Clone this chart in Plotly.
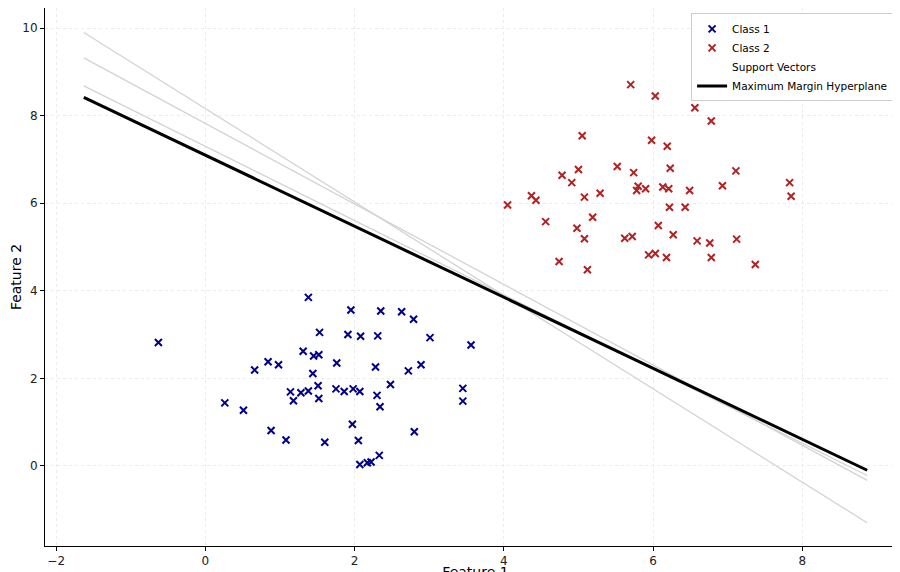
import plotly.graph_objects as go

# class 1 points (blue)
c1_x = [-0.63, 1.38, 1.95, 2.35, 2.63, 2.79, 1.53, 1.91, 2.08, 2.31, 3.01, 3.56, 1.31, 1.45, 1.52,
        0.84, 0.98, 0.66, 1.76, 2.28, 2.89, 2.72, 1.44, 1.51, 2.48, 1.14, 1.28, 1.38, 1.75, 1.86,
        1.98, 2.07, 1.18, 1.52, 2.30, 2.34, 3.45, 3.45, 0.26, 0.51, 1.97, 0.88, 1.08, 1.60, 2.05,
        2.80, 2.33, 2.22, 2.17, 2.07]
c1_y = [2.82, 3.85, 3.56, 3.54, 3.52, 3.35, 3.05, 3.00, 2.96, 2.97, 2.93, 2.76, 2.62, 2.51, 2.54,
        2.38, 2.31, 2.19, 2.35, 2.26, 2.31, 2.17, 2.11, 1.83, 1.86, 1.69, 1.67, 1.71, 1.76, 1.70,
        1.76, 1.70, 1.49, 1.54, 1.61, 1.35, 1.77, 1.48, 1.44, 1.27, 0.95, 0.81, 0.59, 0.54, 0.58,
        0.78, 0.24, 0.09, 0.07, 0.03]

# class 2 points (red)
c2_x = [5.70, 6.03, 6.56, 6.78, 5.05, 5.98, 6.19, 5.52, 5.00, 4.78, 5.74, 6.23, 7.11, 4.91, 5.80,
        5.78, 5.90, 6.13, 6.21, 6.49, 6.93, 7.83, 7.85, 4.37, 4.43, 5.08, 5.29, 4.05, 6.22, 6.43,
        5.19, 4.56, 6.07, 4.98, 5.08, 5.62, 5.72, 6.27, 6.59, 6.76, 7.12, 5.94, 6.03, 6.18, 6.78,
        4.74, 5.12, 7.37]
c2_y = [8.71, 8.45, 8.18, 7.88, 7.54, 7.44, 7.30, 6.84, 6.77, 6.64, 6.70, 6.80, 6.74, 6.47, 6.39,
        6.29, 6.33, 6.37, 6.33, 6.29, 6.40, 6.47, 6.16, 6.17, 6.07, 6.14, 6.23, 5.96, 5.91, 5.91,
        5.68, 5.58, 5.49, 5.43, 5.19, 5.20, 5.24, 5.28, 5.14, 5.09, 5.18, 4.82, 4.85, 4.76, 4.76,
        4.67, 4.48, 4.60]

# line endpoints
line_x = [-1.63, 8.87]
hyper_y = [8.42, -0.10]
gray_lines_y = [[9.90, -1.30], [9.32, -0.33], [8.68, -0.22]]

fig = go.Figure()
for gy in gray_lines_y:
    fig.add_trace(go.Scatter(x=line_x, y=gy, mode='lines', showlegend=False,
                             line=dict(color='#d3d3d3', width=1.3), hoverinfo='skip'))
fig.add_trace(go.Scatter(x=c1_x, y=c1_y, mode='markers', name='Class 1',
                         marker=dict(symbol='x-thin', size=7, line=dict(color='#00008b', width=2))))
fig.add_trace(go.Scatter(x=c2_x, y=c2_y, mode='markers', name='Class 2',
                         marker=dict(symbol='x-thin', size=7, line=dict(color='#b22222', width=2))))
fig.add_trace(go.Scatter(x=[None], y=[None], mode='markers', name='Support Vectors',
                         marker=dict(color='rgba(0,0,0,0)', size=8)))
fig.add_trace(go.Scatter(x=line_x, y=hyper_y, mode='lines', name='Maximum Margin Hyperplane',
                         line=dict(color='black', width=3)))

axis_style = dict(showline=True, linecolor='black', linewidth=1, mirror=False, automargin=False,
                  ticks='outside', ticklen=4, tickcolor='black', zeroline=False,
                  showgrid=True, gridcolor='#ececec', griddash='dot', gridwidth=1,
                  tickfont=dict(size=12, color='#222'))

fig.update_layout(
    width=900, height=572,
    plot_bgcolor='white', paper_bgcolor='white',
    font=dict(family='DejaVu Sans', size=12, color='black'),
    margin=dict(l=37, r=2, t=0, b=34),
    xaxis=dict(title=dict(text='Feature 1', standoff=2), range=[-2.15, 9.39],
               tickvals=[-2, 0, 2, 4, 6, 8], **axis_style),
    yaxis=dict(title=dict(text='Feature 2', standoff=2), range=[-1.83, 10.46],
               tickvals=[0, 2, 4, 6, 8, 10], **axis_style),
    legend=dict(x=0.985, y=0.99, xanchor='right', yanchor='top',
                bordercolor='#cccccc', borderwidth=1, bgcolor='white',
                font=dict(size=10.5), tracegroupgap=0, itemwidth=30),
)

fig.write_html("out.html")
